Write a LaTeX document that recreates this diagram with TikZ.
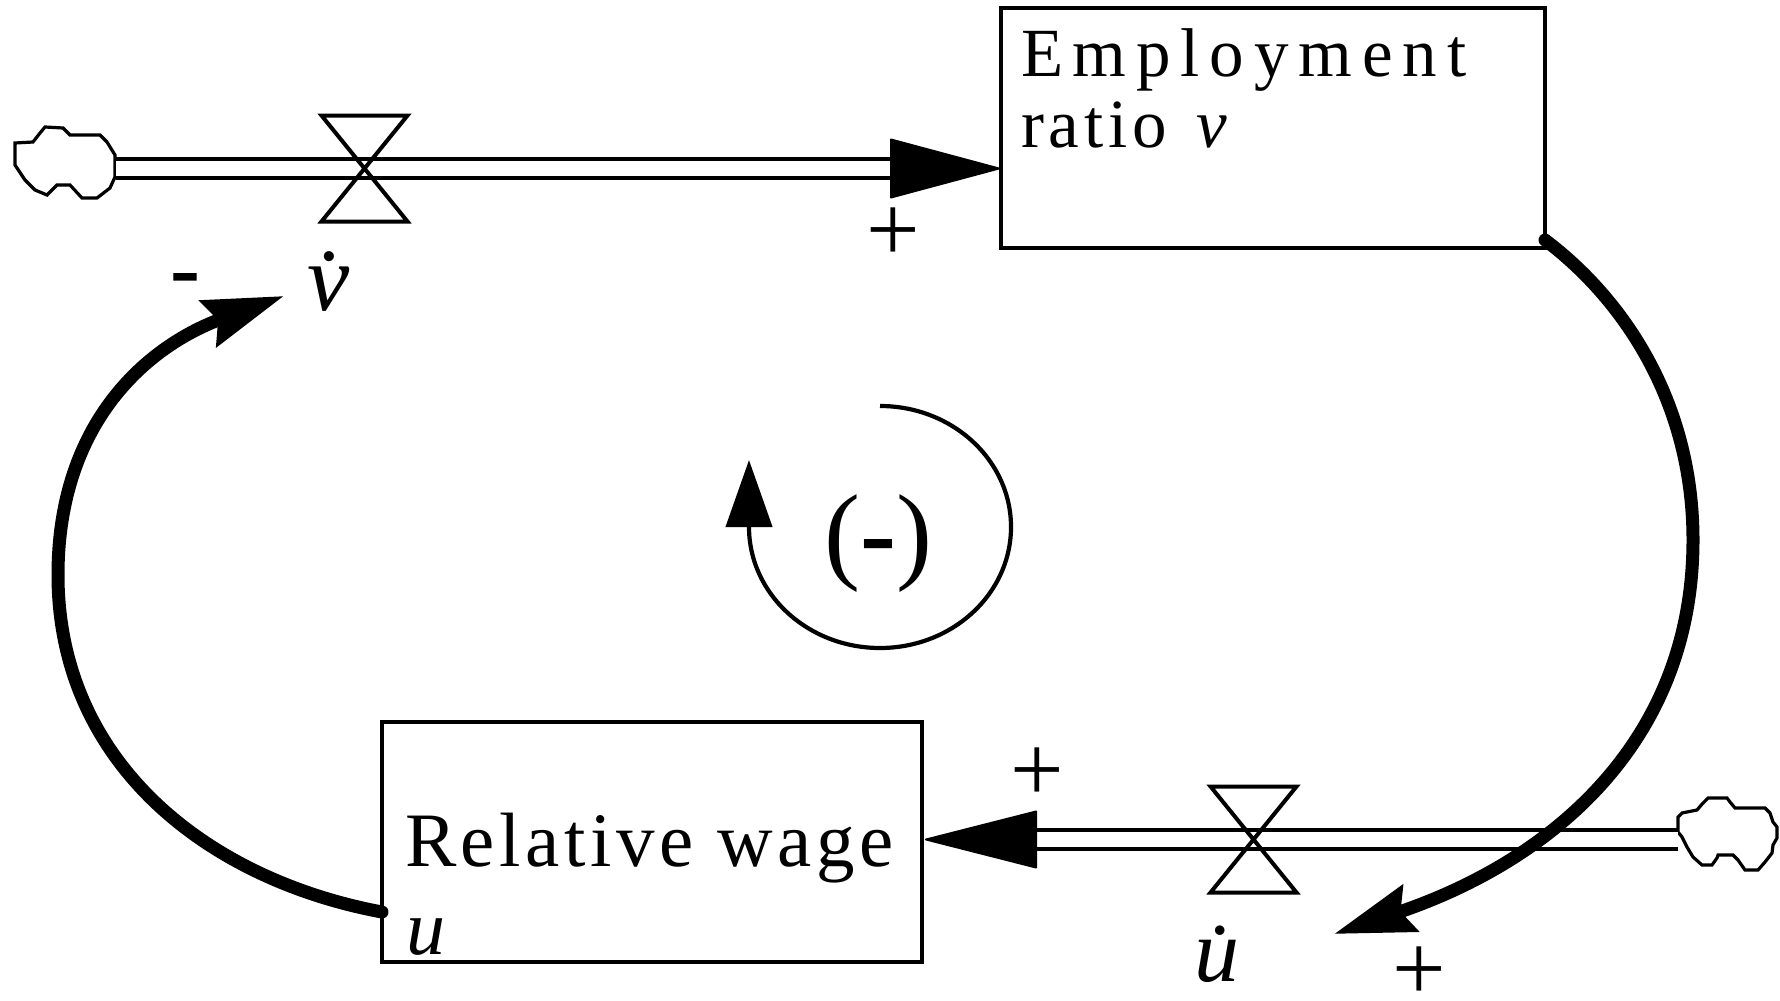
\documentclass[tikz,border=0pt]{standalone}
\usepackage{fontspec}
\setmainfont{Liberation Serif}
\usetikzlibrary{arrows.meta,calc}
\newcommand{\fsz}[1]{\fontsize{#1}{#1}\selectfont}
\begin{document}
\begin{tikzpicture}[x=1pt,y=-1pt,
  stockbox/.style={draw, line width=3.8pt, outer sep=0pt, inner sep=0pt},
  lbl/.style={inner sep=0pt, outer sep=0pt},
  pipe/.style={line width=4pt, double, double distance=15pt},
  pipehead/.style={fill, draw, line width=2pt, line join=round},
  valveline/.style={line width=4pt, line join=miter},
  cloudline/.style={line width=3.2pt, line join=miter},
  link/.style={line width=13pt, line cap=round, -{Stealth[length=80pt,width=48pt,inset=10pt]}},
  loopline/.style={line width=4.2pt, -{Triangle[length=67pt,width=46pt]}},
]
\useasboundingbox (0,0) rectangle (1780,1001);

% stocks
\node[stockbox, minimum width=544pt, minimum height=240pt] (emp) at (1273,128) {};
\node[stockbox, minimum width=540pt, minimum height=240pt] (rw) at (652,842) {};

\node[lbl, anchor=base west, font=\fsz{69}\addfontfeatures{LetterSpace=14.3}] (empA) at (1021,76) {Employment};
\node[lbl, anchor=base west, font=\fsz{69}\addfontfeatures{LetterSpace=7}] (empB) at (1021,147) {ratio\hspace{30pt}\textit{v}};
\node[lbl, anchor=base west, font=\fsz{77}\addfontfeatures{LetterSpace=6}] (rwA) at (405,866) {Relative wage};
\node[lbl, anchor=base west, font=\fsz{78}] (rwU) at (406,954) {\textit{u}};

% valves
\coordinate (v1) at (364.5,168.5);
\coordinate (v2) at (1253.5,839.5);

% clouds
\draw[cloudline] (15,143) -- (15,165) -- (25,180) -- (35,190) -- (47,195) -- (57,185) -- (70,185) -- (82,198) -- (97,198) -- (110,188) -- (115,177) -- (115,155) -- (107,142) -- (100,135) -- (70,135) -- (63,128) -- (45,127) -- (40,133) -- (33,142) -- cycle;
\coordinate (c1) at (116,168.5);
\draw[cloudline] (1678,817) -- (1678,832) -- (1682,837) -- (1687,847) -- (1693,857) -- (1702,865) -- (1712,865) -- (1717,858) -- (1718,855) -- (1733,855) -- (1738,860) -- (1745,870) -- (1758,870) -- (1765,862) -- (1772,853) -- (1773,845) -- (1777,838) -- (1777,827) -- (1773,822) -- (1770,813) -- (1765,808) -- (1735,808) -- (1730,802) -- (1727,798) -- (1708,798) -- (1703,803) -- (1697,810) -- (1682,813) -- cycle;
\coordinate (c2) at (1678,839.5);

% flows
\coordinate (ab1) at (891,168.5);
\coordinate (ab2) at (1036,839.5);
\draw[pipe] (c1) -- (ab1);
\path[pipehead] ($(ab1)+(0,-29)$) -- ($(emp.west |- v1)+(-2,0)$) -- ($(ab1)+(0,29)$) -- cycle;
\draw[pipe] (c2) -- (ab2);
\path[pipehead] ($(ab2)+(0,-28)$) -- ($(rw.east |- v2)+(4,0)$) -- ($(ab2)+(0,28)$) -- cycle;

\draw[valveline] ($(v1)+(-43,-53)$) -- ++(86,0) -- ++(-86,106) -- ++(86,0) -- cycle;
\draw[valveline] ($(v2)+(-43,-53)$) -- ++(86,0) -- ++(-86,106) -- ++(86,0) -- cycle;

% flow labels
\node[lbl, anchor=base, font=\fsz{95}] (vdot) at (342,310) {\textit{\.{v}}};
\node[lbl, anchor=base, font=\fsz{90}] (udot) at (1230,981) {\textit{\.{u}}};

% links
\coordinate (ls) at ($(rw.south west)+(0,-50)$);
\coordinate (lt) at (284,296);
\draw[link] (ls) .. controls (205,879) and (58,761) .. (58,575) .. controls (58,420) and (150,345) .. (lt);
\coordinate (rs) at ($(emp.south east)+(0,-8)$);
\coordinate (rt) at (1334,934);
\draw[link] (rs) .. controls (1622,298) and (1693,400) .. (1693,540) .. controls (1693,740) and (1554,860) .. (rt);

% polarities
\node[lbl, anchor=center, font=\fsz{95}] (p1) at (893,235) {+};
\node[lbl, anchor=center, font=\fsz{95}] (p2) at (1037,775) {+};
\node[lbl, anchor=center, font=\fsz{95}] (p3) at (1419,974) {+};
\node[lbl, anchor=base, font=\fsz{90}] (m1) at (185,298) {\textbf{-}};

% loop
\coordinate (loopc) at (880,527);
\draw[loopline] ($(loopc)+(0,-121)$) arc[start angle=-90, end angle=180, x radius=131, y radius=121] -- ++(0,-67);
\node[lbl, anchor=base, font=\fsz{108}] (loopsign) at (878.5,569) {(\textbf{-})};
\end{tikzpicture}
\end{document}
